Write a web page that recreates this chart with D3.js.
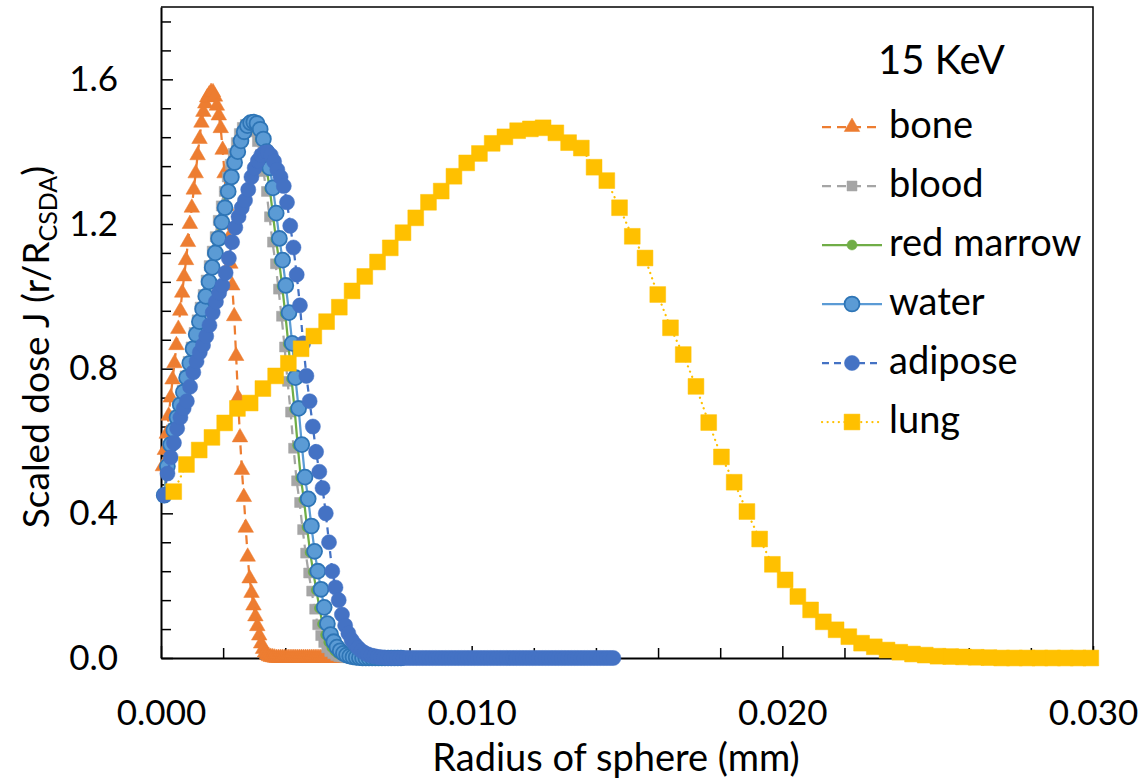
<!DOCTYPE html>
<html>
<head>
<meta charset="utf-8">
<script src="https://d3js.org/d3.v7.min.js"></script>
<style>
  body { margin: 0; background: #fff; }
  text { font-family: Lato, "Noto Sans", sans-serif; fill: #000; }
</style>
</head>
<body>
<div id="chart"></div>
<script>
// radius step of each series (mm); point i sits at (i + 1) * step
var boneStep = 0.000062;
var bloodStep = 0.000097;
var marrowStep = 0.0001;
var waterStep = 0.000103;
var adiposeStep = 0.000104;
var lungStep = 0.00041;

// scaled dose J
var boneDose = [0.53,0.575,0.62,0.67,0.72,0.77,0.815,0.865,0.91,0.96,
  1.01,1.055,1.10,1.15,1.20,1.245,1.295,1.34,1.39,1.435,
  1.48,1.51,1.533,1.55,1.558,1.565,1.564,1.552,1.527,1.50,
  1.465,1.405,1.34,1.25,1.16,1.09,1.03,0.945,0.835,0.72,
  0.61,0.52,0.445,0.36,0.28,0.22,0.18,0.145,0.115,0.088,
  0.062,0.04,0.025,0.015,0.009,0.005,0.003,0.002,0.001,0,
  0,0,0,0,0,0,0,0,0,0, 0,0,0,0,0,0,0,0,0,0,
  0,0,0,0,0,0,0,0,0,0, 0,0,0,0,0,0,0,0,0,0, 0,0,0,0,0,0];

var bloodDose = [0.45,0.535,0.595,0.635,0.67,0.705,0.74,0.78,0.82,0.86,
  0.9,0.935,0.97,1.005,1.045,1.085,1.125,1.165,1.21,1.25,
  1.29,1.33,1.365,1.395,1.425,1.45,1.467,1.475,1.476,1.47,
  1.455,1.428,1.392,1.345,1.29,1.22,1.15,1.09,1.02,0.945,
  0.86,0.765,0.68,0.58,0.49,0.43,0.355,0.29,0.235,0.185,
  0.135,0.092,0.062,0.043,0.028,0.018,0.012,0.007,0.004,0.003,
  0.001,0.001,0,0,0,0,0,0,0,0, 0,0,0,0,0];

var marrowDose = [0.45,0.53,0.59,0.632,0.667,0.702,0.737,0.777,0.817,0.857,
  0.897,0.932,0.967,1.002,1.042,1.082,1.122,1.162,1.207,1.247,
  1.29,1.33,1.368,1.398,1.428,1.453,1.47,1.478,1.48,1.476,
  1.46,1.433,1.398,1.352,1.297,1.228,1.158,1.098,1.028,0.952,
  0.868,0.772,0.688,0.588,0.498,0.438,0.362,0.292,0.238,0.188,
  0.138,0.094,0.064,0.044,0.029,0.019,0.012,0.008,0.005,0.003,
  0.002,0.001,0,0,0,0,0,0,0,0, 0,0,0,0,0];

var waterDose = [0.45,0.53,0.59,0.63,0.665,0.70,0.735,0.775,0.815,0.855,
  0.895,0.93,0.965,1.0,1.04,1.08,1.12,1.16,1.205,1.245,
  1.29,1.33,1.37,1.40,1.43,1.455,1.472,1.48,1.482,1.478,
  1.462,1.435,1.40,1.355,1.30,1.23,1.16,1.10,1.03,0.955,
  0.87,0.775,0.69,0.59,0.50,0.44,0.365,0.295,0.24,0.19,
  0.14,0.095,0.065,0.045,0.03,0.02,0.013,0.008,0.005,0.003,
  0.002,0.001,0,0,0,0,0,0,0,0, 0,0,0,0,0];

var adiposeDose = [0.45,0.51,0.555,0.595,0.635,0.665,0.69,0.71,0.75,0.79,
  0.82,0.845,0.865,0.89,0.92,0.955,0.985,1.01,1.03,1.065,
  1.105,1.15,1.19,1.22,1.245,1.265,1.295,1.33,1.355,1.375,
  1.39,1.397,1.398,1.39,1.373,1.35,1.33,1.305,1.26,1.195,
  1.135,1.06,0.975,0.87,0.78,0.71,0.64,0.57,0.515,0.47,
  0.40,0.32,0.24,0.195,0.16,0.12,0.09,0.068,0.05,0.038,
  0.028,0.02,0.014,0.01,0.007,0.005,0.003,0.002,0.001,0,
  0,0,0,0,0,0,0,0,0,0, 0,0,0,0,0,0,0,0,0,0,
  0,0,0,0,0,0,0,0,0,0, 0,0,0,0,0,0,0,0,0,0,
  0,0,0,0,0,0,0,0,0,0, 0,0,0,0,0,0,0,0,0,0,
  0,0,0,0,0,0,0,0,0,0];

var lungDose = [0.46,0.535,0.575,0.61,0.65,0.69,0.705,0.745,0.78,0.815,
  0.855,0.89,0.93,0.97,1.015,1.055,1.095,1.134,1.176,1.217,
  1.26,1.291,1.332,1.369,1.395,1.423,1.441,1.458,1.463,1.466,
  1.452,1.425,1.41,1.357,1.32,1.245,1.166,1.106,1.005,0.913,
  0.839,0.751,0.651,0.556,0.486,0.405,0.329,0.259,0.216,0.170,
  0.133,0.100,0.078,0.059,0.041,0.031,0.022,0.016,0.011,0.008,
  0.005,0.004,0.003,0.002,0.001,0,0,0,0,0,
  0,0,0];

var seriesNames = ["bone", "blood", "red marrow", "water", "adipose", "lung"];
var xTicks = [0, 0.010, 0.020, 0.030];
var yTicks = [0, 0.4, 0.8, 1.2, 1.6];
var legendTitle = "15 KeV";

// set the dimensions and margins of the graph
var margin = {top: 7, right: 50, bottom: 122, left: 161};
var width = 1143 - margin.left - margin.right;
var height = 780 - margin.top - margin.bottom;

var svg = d3.select("#chart")
  .append("svg")
    .attr("width", 1143)
    .attr("height", 780)
  .append("g")
    .attr("transform", "translate(" + margin.left + "," + margin.top + ")");

var x = d3.scaleLinear().domain([0, 0.030]).range([0, width]);
var y = d3.scaleLinear().domain([0, 1.8]).range([height, 0]);

// frame (top and right)
svg.append("path")
  .attr("d", "M0,0H" + width + "V" + height)
  .attr("fill", "none")
  .attr("stroke", "#000")
  .attr("stroke-width", 1.5);

// minor ticks
var xMinor = d3.range(0.002, 0.0295, 0.002).filter(function(d) { return Math.abs(d / 0.01 - Math.round(d / 0.01)) > 1e-6; });
var yMinor = d3.range(0.08, 1.79, 0.08).filter(function(d) { return Math.abs(d / 0.4 - Math.round(d / 0.4)) > 1e-6; });

svg.append("g")
  .attr("transform", "translate(0," + height + ")")
  .call(d3.axisBottom(x).tickValues(xMinor).tickSizeInner(-10).tickSizeOuter(0).tickFormat(""))
  .call(function(g) { g.select(".domain").remove(); });
svg.append("g")
  .call(d3.axisLeft(y).tickValues(yMinor).tickSizeInner(-10).tickSizeOuter(0).tickFormat(""))
  .call(function(g) { g.select(".domain").remove(); });

// Add X axis
var xAxis = svg.append("g")
  .attr("transform", "translate(0," + height + ")")
  .call(d3.axisBottom(x).tickValues(xTicks).tickSizeInner(-12).tickSizeOuter(0)
    .tickPadding(42).tickFormat(d3.format(".3f")));

// Add Y axis
var yAxis = svg.append("g")
  .call(d3.axisLeft(y).tickValues(yTicks).tickSizeInner(-12).tickSizeOuter(0)
    .tickPadding(43).tickFormat(d3.format(".1f")));

[xAxis, yAxis].forEach(function(a) {
  a.select(".domain").attr("stroke-width", 2);
  a.selectAll("text").style("font-size", "35px").style("font-family", "Lato");
});
svg.selectAll(".tick line").attr("stroke-width", 1.5);

// axis titles
svg.append("text")
  .attr("text-anchor", "middle")
  .attr("x", 455)
  .attr("y", height + 113)
  .style("font-size", "38px")
  .text("Radius of sphere (mm)");

var yTitle = svg.append("text")
  .attr("text-anchor", "middle")
  .attr("transform", "translate(-112," + 340 + ") rotate(-90)")
  .style("font-size", "37px");
yTitle.append("tspan").text("Scaled dose J (r/R");
yTitle.append("tspan").attr("dy", 8).style("font-size", "25px").text("CSDA");
yTitle.append("tspan").attr("dy", -8).text(")");

// series styles
var colors = ["#ED7D31", "#A5A5A5", "#70AD47", "#5B9BD5", "#4472C4", "#FFC000"];
var dashes = ["9,6", "9,6", null, null, "7,5", "0.1,5.5"];
var symbols = [d3.symbolTriangle, d3.symbolSquare, d3.symbolCircle, d3.symbolCircle, d3.symbolCircle, d3.symbolSquare];
var sizes = [105, 100, 80, 175, 180, 250];
var outlines = ["#ED7D31", "#A5A5A5", "#70AD47", "#2E75B6", "#4472C4", "#FFC000"];
var steps = [boneStep, bloodStep, marrowStep, waterStep, adiposeStep, lungStep];
var doses = [boneDose, bloodDose, marrowDose, waterDose, adiposeDose, lungDose];

var series = seriesNames.map(function(name, k) {
  return {
    name: name,
    points: doses[k].map(function(v, i) { return {r: (i + 1) * steps[k], j: v}; })
  };
});

var line = d3.line()
  .x(function(d) { return x(d.r); })
  .y(function(d) { return y(d.j); });

series.forEach(function(s, k) {
  svg.append("path")
    .datum(s.points)
    .attr("fill", "none")
    .attr("stroke", colors[k])
    .attr("stroke-width", 2.25)
    .attr("stroke-linecap", k == 5 ? "round" : "butt")
    .attr("stroke-dasharray", dashes[k])
    .attr("d", line);

  svg.append("g")
    .selectAll("path")
    .data(s.points)
    .enter()
    .append("path")
      .attr("transform", function(d) { return "translate(" + x(d.r) + "," + y(d.j) + ")"; })
      .attr("d", d3.symbol().type(symbols[k]).size(sizes[k]))
      .attr("fill", colors[k])
      .attr("stroke", outlines[k])
      .attr("stroke-width", k == 3 ? 1.8 : 0.5);
});

// legend
var legend = svg.append("g").attr("transform", "translate(" + (822 - margin.left) + ",0)");
legend.append("text")
  .attr("x", 56)
  .attr("y", 67)
  .style("font-size", "40px")
  .text(legendTitle);

seriesNames.forEach(function(name, k) {
  var ly = 120 + k * 59;
  legend.append("line")
    .attr("x1", 0).attr("x2", 60)
    .attr("y1", ly).attr("y2", ly)
    .attr("stroke", colors[k])
    .attr("stroke-width", 2.25)
    .attr("stroke-linecap", k == 5 ? "round" : "butt")
    .attr("stroke-dasharray", dashes[k]);
  legend.append("path")
    .attr("transform", "translate(30," + ly + ")")
    .attr("d", d3.symbol().type(symbols[k]).size(sizes[k]))
    .attr("fill", colors[k])
    .attr("stroke", outlines[k])
    .attr("stroke-width", k == 3 ? 1.8 : 0.5);
  legend.append("text")
    .attr("x", 67)
    .attr("y", ly + 11)
    .style("font-size", "38px")
    .text(name);
});
</script>
</body>
</html>
